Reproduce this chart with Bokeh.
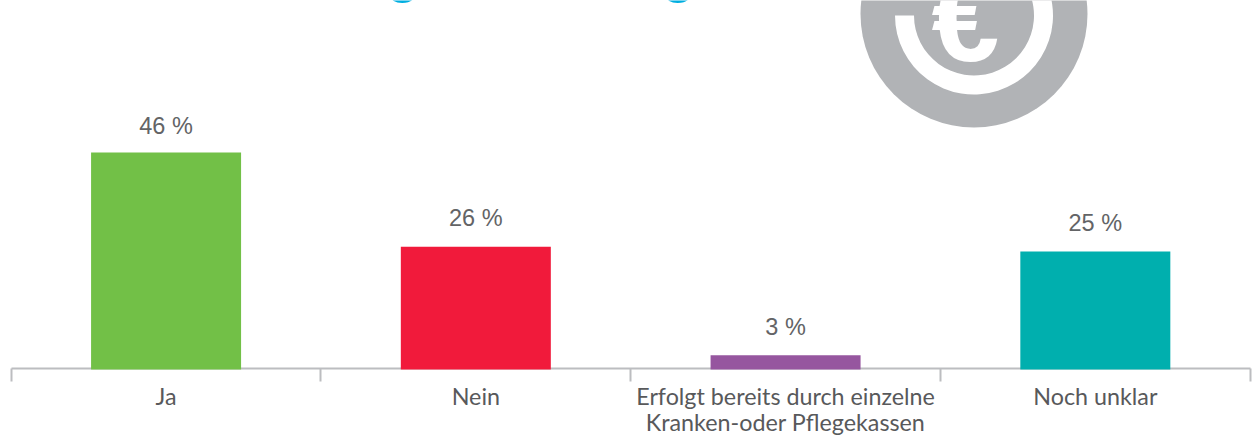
from bokeh.embed import file_html
from bokeh.resources import INLINE
from bokeh.plotting import figure
from bokeh.models import LinearAxis, FixedTicker, ColumnDataSource, Range1d
from bokeh.core.properties import value

categories = ["Ja", "Nein", "Erfolgt bereits durch einzelne\nKranken-oder Pflegekassen", "Noch unklar"]
shares = [46, 26, 3, 25]
bar_colors = ["#72c047", "#f11a3b", "#96569f", "#00afae"]
value_labels = ["46 %", "26 %", "3 %", "25 %"]
label_lift = [-26, -29, -28, -29]

W, H = 1253, 437
AX_L, AX_R, BASE = 10.7, 1249.7, 369
PX_X = (AX_R - AX_L) / 4
PX_Y = 4.72


def dx(px):
    return (px - AX_L) / PX_X


def dy(px):
    return (BASE - px) / PX_Y


p = figure(width=W, height=H, output_backend="svg", toolbar_location=None,
           x_range=Range1d(dx(0), dx(W)), y_range=Range1d(dy(H), dy(0)),
           x_axis_location=None, y_axis_location=None,
           min_border=0, outline_line_color=None, background_fill_color="white",
           border_fill_color="white")
p.grid.visible = False

centers = [i + 0.5 for i in range(len(categories))]
src = ColumnDataSource(dict(x=centers, top=shares, color=bar_colors, label=value_labels, lift=label_lift))

# Icon
p.circle(x=[dx(973.5)], y=[dy(13.5)], radius=113.5 / PX_X, fill_color="#b1b3b6", line_color=None)
p.annular_wedge(x=[dx(973.5)], y=[dy(15)], inner_radius=60 / PX_X, outer_radius=79 / PX_X,
                start_angle=3.14159265, end_angle=6.9, fill_color="white", line_color=None)
p.text(x=[dx(965)], y=[dy(18)], text=["€"], text_font=value("Liberation Sans"), text_font_style="bold",
       text_font_size="122px", text_color="white", text_align="center", text_baseline="alphabetic")

# Cut-off heading: only the descenders remain in the crop
p.text(x=[dx(402.5), dx(678)], y=[dy(-28), dy(-28)], text=["g", "g"], text_font=value("Liberation Sans"),
       text_font_style="bold", text_font_size="54px", text_color="#00aee0",
       text_align="center", text_baseline="alphabetic")

# Axes
tick_axis = LinearAxis(ticker=FixedTicker(ticks=[0, 1, 2, 3, 4]), fixed_location=1 / PX_Y,
                       bounds=(0, 4), major_label_text_font_size="0px",
                       axis_line_color="#bcbdc0", axis_line_width=2,
                       major_tick_line_color="#bcbdc0", major_tick_line_width=2,
                       major_tick_out=13, major_tick_in=0, minor_tick_line_color=None)
tick_axis.major_label_overrides = {i: "" for i in range(5)}
p.add_layout(tick_axis, "below")

label_axis = LinearAxis(ticker=FixedTicker(ticks=centers), fixed_location=1 / PX_Y,
                        axis_line_color=None, major_tick_line_color=None, minor_tick_line_color=None,
                        major_tick_out=0, major_tick_in=0, major_label_standoff=13,
                        major_label_text_font="Lato",
                        major_label_text_font_size="23.3px", major_label_text_color="#58595b",
                        major_label_text_line_height=0.96)
label_axis.major_label_overrides = {c: t for c, t in zip(centers, categories)}
p.add_layout(label_axis, "below")

# Bars above the axis line
p.vbar(x="x", top="top", bottom=0, width=150 / PX_X, fill_color="color", line_color=None,
       source=src, level="annotation")
p.text(x="x", y="top", text="label", source=src, text_font=value("Liberation Sans"),
       text_font_size="23.5px", text_color="#636466", text_align="center", text_baseline="middle",
       y_offset="lift", level="annotation")

open("out.html", "w").write(file_html(p, INLINE))
